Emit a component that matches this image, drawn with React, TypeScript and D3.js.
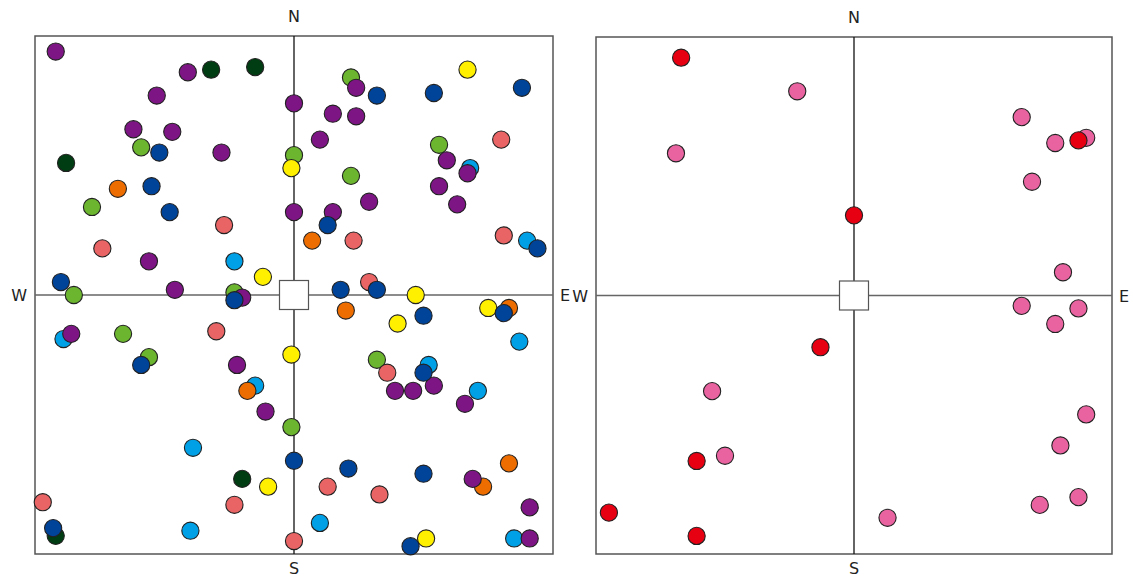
import React from 'react';
import { scaleLinear } from 'd3';

// colours per category, listed in draw order (later ones sit on top)
const leftSeries = ['ltgreen', 'ltblue', 'salmon', 'yellow', 'orange', 'dkgreen', 'purple', 'dkblue'];
const rightSeries = ['pink', 'red'];

const colors: Record<string, string> = {
  ltgreen: '#6cb52e',
  ltblue: '#00a0e6',
  salmon: '#e96464',
  yellow: '#fff000',
  orange: '#ee6d00',
  dkgreen: '#013d12',
  purple: '#7e1585',
  dkblue: '#00449a',
  pink: '#e963a1',
  red: '#e60012',
};

// [x, y] positions on a -100..100 compass grid (x = W->E, y = S->N)
const ltgreen = [[-59, 57], [-78, 34], [-85, 0], [-23, 1], [0, 54], [22, 84], [56, 58], [22, 46], [-66, -15], [-56, -24], [32, -25], [-1, -51]];
const ltblue = [[-23, 13], [68, 49], [90, 21], [-89, -17], [-15, -35], [52, -27], [87, -18], [71, -37], [-39, -59], [10, -88], [-40, -91], [85, -94]];
const salmon = [[-27, 27], [-74, 18], [80, 60], [23, 21], [81, 23], [29, 5], [-30, -14], [36, -30], [-23, -81], [-97, -80], [13, -74], [33, -77], [0, -95]];
const yellow = [[67, 87], [-1, 49], [-12, 7], [47, 0], [40, -11], [75, -5], [-1, -23], [-10, -74], [51, -94]];
const orange = [[-68, 41], [7, 21], [20, -6], [83, -5], [-18, -37], [83, -65], [73, -74]];
const dkgreen = [[-32, 87], [-15, 88], [-88, 51], [-20, -71], [-92, -93]];
const purple = [
  [-92, 94], [-41, 86], [-53, 77], [-62, 64], [-47, 63], [-28, 55], [-56, 13], [-46, 2], [-20, -1],
  [0, 74], [0, 32], [24, 80], [15, 70], [24, 69], [10, 60], [59, 52], [67, 47], [56, 42], [63, 35],
  [29, 36], [15, 32], [-86, -15], [-22, -27], [-11, -45], [39, -37], [46, -37], [54, -35], [66, -42],
  [69, -71], [91, -82], [91, -94],
];
const dkblue = [
  [-52, 55], [-55, 42], [-48, 32], [-90, 5], [-23, -2], [32, 77], [54, 78], [88, 80], [13, 27], [94, 18],
  [18, 2], [32, 2], [50, -8], [81, -7], [-59, -27], [50, -30], [0, -64], [21, -67], [50, -69], [-93, -90], [45, -97],
];

const pink = [
  [-22, 79], [-69, 55], [65, 69], [78, 59], [90, 61], [69, 44], [81, 9], [65, -4], [87, -5], [78, -11],
  [-55, -37], [90, -46], [80, -58], [-50, -62], [87, -78], [72, -81], [13, -86],
];
const red = [[-67, 92], [87, 60], [0, 31], [-13, -20], [-61, -64], [-95, -84], [-61, -93]];

const leftData: Record<string, number[][]> = { ltgreen, ltblue, salmon, yellow, orange, dkgreen, purple, dkblue };
const rightData: Record<string, number[][]> = { pink, red };

const W = 1133, H = 579;

function Compass({ x0, x1, y0, y1, series, data }: any) {
  const x = scaleLinear().domain([-100, 100]).range([x0, x1]);
  const y = scaleLinear().domain([-100, 100]).range([y1, y0]);
  const cx = x(0), cy = y(0);
  const sq = 29;
  return (
    <g>
      <rect x={x0} y={y0} width={x1 - x0} height={y1 - y0} fill="#fff" stroke="#555" strokeWidth={1.5} />
      <line x1={x0} x2={x1} y1={cy} y2={cy} stroke="#666" strokeWidth={1.5} />
      <line x1={cx} x2={cx} y1={y0} y2={y1} stroke="#111" strokeWidth={1.3} />
      <rect x={cx - sq / 2} y={cy - sq / 2} width={sq} height={sq} fill="#fff" stroke="#555" strokeWidth={1.2} />
      {series.map((s: string) => (
        <g key={s}>
          {data[s].map((d: number[], i: number) => (
            <circle key={i} cx={x(d[0])} cy={y(d[1])} r={8.6} fill={colors[s]} stroke="#222" strokeWidth={1.1} />
          ))}
        </g>
      ))}
      <g fontFamily="DejaVu Sans" fontSize={16} fill="#222">
        <text x={cx} y={y0 - 14} textAnchor="middle">N</text>
        <text x={cx} y={y1 + 20} textAnchor="middle">S</text>
        <text x={x0 - 8} y={cy + 6} textAnchor="end">W</text>
        <text x={x1 + 7} y={cy + 6} textAnchor="start">E</text>
      </g>
    </g>
  );
}

export default function App() {
  return (
    <svg width={W} height={H} style={{ position: 'absolute', left: 0, top: 0, background: '#fff' }}>
      <Compass x0={35} x1={553} y0={36} y1={554} series={leftSeries} data={leftData} />
      <Compass x0={596} x1={1112} y0={37} y1={554} series={rightSeries} data={rightData} />
    </svg>
  );
}
